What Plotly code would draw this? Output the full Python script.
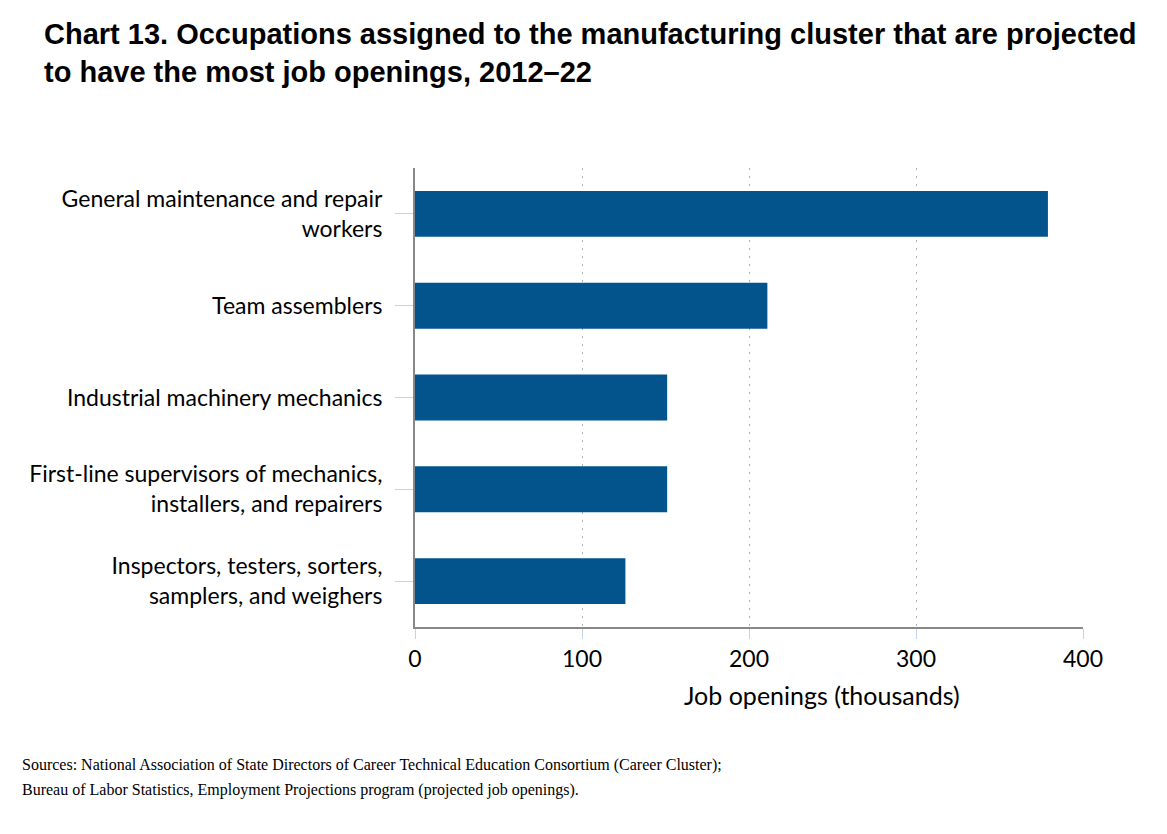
import plotly.graph_objects as go

categories = [
    "General maintenance and repair<br>workers",
    "Team assemblers",
    "Industrial machinery mechanics",
    "First-line supervisors of mechanics,<br>installers, and repairers",
    "Inspectors, testers, sorters,<br>samplers, and weighers",
]
values = [379, 211, 151, 151, 126]
x_ticks = [0, 100, 200, 300, 400]
source_lines = [
    "Sources: National Association of State Directors of Career Technical Education Consortium (Career Cluster);",
    "Bureau of Labor Statistics, Employment Projections program (projected job openings).",
]

W, H = 1151, 818
L, R, T, B = 407, 1075, 160, 619
PW, PH = R - L, B - T

fig = go.Figure(go.Bar(
    x=values, y=categories, orientation="h",
    marker=dict(color="#03548C", line=dict(width=0)),
    width=0.5,
))

fig.update_layout(
    width=W, height=H,
    paper_bgcolor="white", plot_bgcolor="white",
    margin=dict(l=L, r=W - R, t=T, b=H - B, autoexpand=False),
    showlegend=False,
    font=dict(family="Lato", size=23, color="#000000"),
)

fig.update_xaxes(
    range=[0, 400], tickvals=x_ticks, ticktext=[str(v) for v in x_ticks],
    showgrid=True, gridcolor="#b0b0b0", griddash="2px,6px", gridwidth=1,
    showline=True, linecolor="#888888", linewidth=2,
    ticks="outside", ticklen=10, tickcolor="#c5d3e6", tickwidth=1,
    zeroline=False, tickfont=dict(size=23),
)
fig.update_yaxes(
    autorange="reversed",
    showline=True, linecolor="#888888", linewidth=2,
    ticks="outside", ticklen=18, tickcolor="#c5d3e6", tickwidth=1,
    showgrid=False, tickfont=dict(size=23), ticklabelstandoff=8,
)

def px(X):
    return (X - L) / PW

def py(Y):
    return (B - Y) / PH

fig.add_annotation(
    text="<b>Chart 13. Occupations assigned to the manufacturing cluster that are projected<br>to have the most job openings, 2012–22</b>",
    xref="paper", yref="paper", x=px(34), y=py(8), xanchor="left", yanchor="top",
    align="left", showarrow=False,
    font=dict(family="Liberation Sans", size=29, color="#000000"),
)
fig.add_annotation(
    text="Job openings (thousands)", xref="paper", yref="paper",
    x=px(814), y=py(687), xanchor="center", yanchor="middle",
    showarrow=False, font=dict(size=25),
)
for i, line in enumerate(source_lines):
    fig.add_annotation(
        text=line, xref="paper", yref="paper", x=px(12), y=py(757 + 25 * i),
        xanchor="left", yanchor="middle", align="left", showarrow=False,
        font=dict(family="Liberation Serif", size=16, color="#000000"),
    )

fig.write_html("out.html")
